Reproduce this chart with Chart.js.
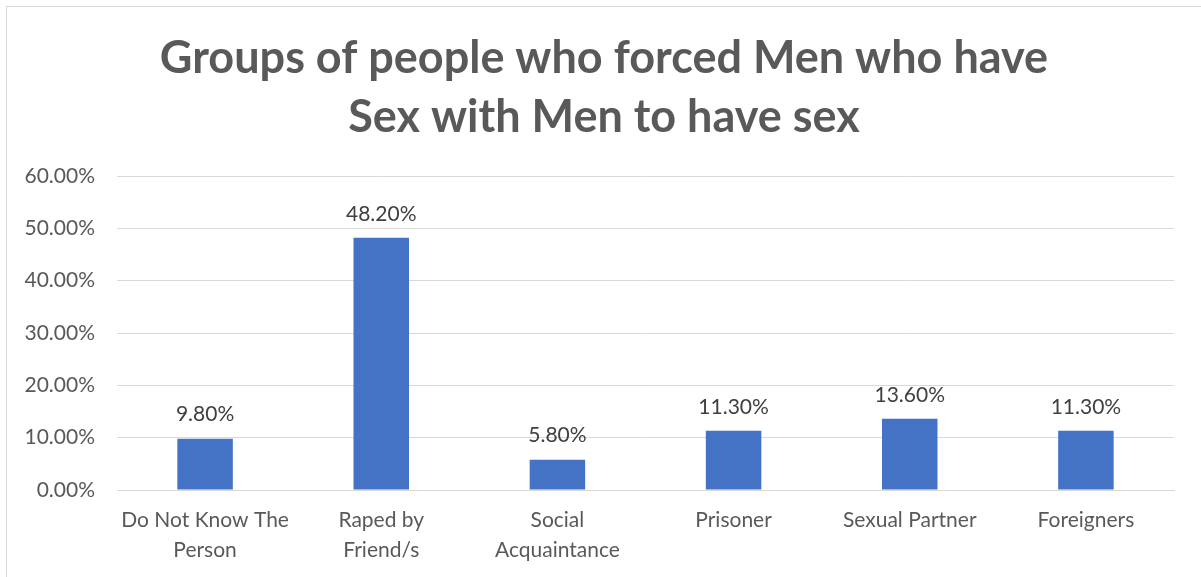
<!DOCTYPE html>
<html>
<head>
<meta charset="utf-8">
<script src="https://cdn.jsdelivr.net/npm/chart.js@4.4.1/dist/chart.umd.min.js"></script>
<style>
  html, body { margin: 0; padding: 0; background: #ffffff; }
  #wrap { position: relative; width: 1201px; height: 577px; overflow: hidden; }
  #frame { position: absolute; left: 6px; top: 6px; width: 1220px; height: 600px; border: 1px solid #d9d9d9; box-sizing: border-box; pointer-events: none; }
  canvas { position: absolute; left: 0; top: 0; }
</style>
</head>
<body>
<div id="wrap">
  <canvas id="chart" width="1201" height="577"></canvas>
  <div id="frame"></div>
</div>
<script>
const titleLines = ['Groups of people who forced Men who have', 'Sex with Men to have sex'];
const categories = [
  ['Do Not Know The', 'Person'],
  ['Raped by', 'Friend/s'],
  ['Social', 'Acquaintance'],
  'Prisoner',
  'Sexual Partner',
  'Foreigners'
];
const percentages = [9.8, 48.2, 5.8, 11.3, 13.6, 11.3];
const yTicks = [0, 10, 20, 30, 40, 50, 60];

const FONT = 'Lato, "Open Sans", sans-serif';
const TEXT = '#595959';

// Two-line heading, centred over the whole chart frame
const heading = {
  id: 'heading',
  afterDraw(chart) {
    const ctx = chart.ctx;
    ctx.save();
    ctx.font = 'bold 45px ' + FONT;
    ctx.fillStyle = TEXT;
    ctx.textAlign = 'center';
    ctx.textBaseline = 'middle';
    titleLines.forEach((line, i) => ctx.fillText(line, 604, 58 + i * 59));
    ctx.restore();
  }
};

// Percentage printed above each bar
const valueLabels = {
  id: 'valueLabels',
  afterDatasetsDraw(chart) {
    const ctx = chart.ctx;
    const meta = chart.getDatasetMeta(0);
    ctx.save();
    ctx.font = '21px ' + FONT;
    ctx.fillStyle = '#404040';
    ctx.textAlign = 'center';
    ctx.textBaseline = 'middle';
    meta.data.forEach((bar, i) => {
      ctx.fillText(percentages[i].toFixed(2) + '%', bar.x, bar.y - 24);
    });
    ctx.restore();
  }
};

new Chart(document.getElementById('chart'), {
  type: 'bar',
  data: {
    labels: categories,
    datasets: [{
      data: percentages,
      backgroundColor: '#4472C4',
      borderWidth: 0,
      categoryPercentage: 1,
      barPercentage: 0.315
    }]
  },
  options: {
    responsive: false,
    animation: false,
    layout: { padding: { left: 0, right: 27, top: 176, bottom: 0 } },
    plugins: {
      legend: { display: false },
      tooltip: { enabled: false },
      title: { display: false }
    },
    scales: {
      x: {
        grid: { display: false, drawTicks: false },
        border: { display: true, color: '#d9d9d9', width: 1 },
        ticks: {
          color: TEXT,
          font: { family: FONT, size: 21, lineHeight: 1.4 },
          padding: 16,
          maxRotation: 0,
          autoSkip: false
        },
        afterFit(scale) { scale.height = 87; }
      },
      y: {
        min: 0,
        max: 60,
        afterBuildTicks(scale) { scale.ticks = yTicks.map(v => ({ value: v })); },
        grid: { color: '#d9d9d9', drawTicks: false, lineWidth: 1 },
        border: { display: false },
        ticks: {
          color: TEXT,
          font: { family: FONT, size: 21 },
          padding: 22,
          callback: v => v.toFixed(2) + '%'
        },
        afterFit(scale) { scale.width = 117; }
      }
    }
  },
  plugins: [heading, valueLabels]
});
</script>
</body>
</html>
